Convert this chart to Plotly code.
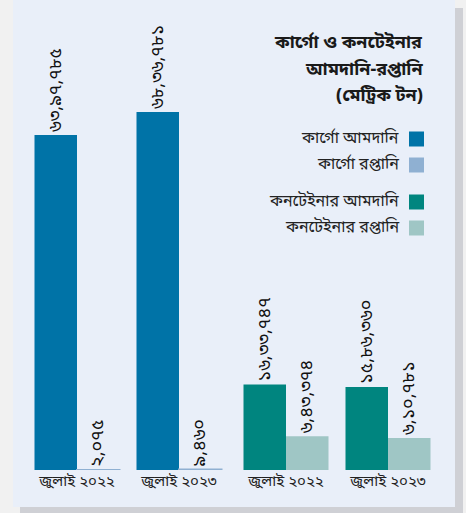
import plotly.graph_objects as go

W, H = 466, 513
periods = ["জুলাই ২০২২", "জুলাই ২০২৩"]
cargo_import = [6397785, 6836781]
cargo_export = [2075, 9460]
container_import = [1633747, 1586360]
container_export = [643374, 610781]

cargo_import_lbl = ["৬৩,৯৭,৭৮৫", "৬৮,৩৬,৭৮১"]
cargo_export_lbl = ["২,০৭৫", "৯,৪৬০"]
container_import_lbl = ["১৬,৩৩,৭৪৭", "১৫,৮৬,৩৬০"]
container_export_lbl = ["৬,৪৩,৩৭৪", "৬,১০,৭৮১"]

names = ["কার্গো আমদানি", "কার্গো রপ্তানি", "কনটেইনার আমদানি", "কনটেইনার রপ্তানি"]
colors = ["#0073a7", "#8fb0d2", "#00857f", "#9fc6c5"]
title_lines = ["কার্গো ও কনটেইনার", "আমদানি-রপ্তানি", "(মেট্রিক টন)"]

FONT = "Noto Sans Bengali, Noto Sans, sans-serif"
base_px = 470
top_px = 30
scale_max = cargo_import[0] * (base_px - top_px) / 335.0

fig = go.Figure()
series = [
    (cargo_import, cargo_import_lbl, "x", colors[0], 0),
    (cargo_export, cargo_export_lbl, "x", colors[1], 2),
    (container_import, container_import_lbl, "x2", colors[2], 0),
    (container_export, container_export_lbl, "x2", colors[3], 0),
]
for i, (vals, lbls, xa, col, lw) in enumerate(series):
    fig.add_trace(go.Bar(
        x=periods, y=vals, text=lbls, textposition="outside", textangle=-90,
        textfont=dict(family=FONT, size=18, color="#111"),
        marker=dict(color=col, line=dict(width=lw, color=col)),
        xaxis=xa, yaxis="y", name=names[i], showlegend=False,
        cliponaxis=False, constraintext="none", offsetgroup=str(i % 2),
        hoverinfo="skip",
    ))

fig.update_layout(
    width=W, height=H, margin=dict(l=0, r=0, t=0, b=0),
    paper_bgcolor="#f1f1f1", plot_bgcolor="rgba(0,0,0,0)",
    barmode="group", bargap=17 / 102, bargroupgap=0,
    xaxis=dict(domain=[26 / W, 230 / W], anchor="y", showgrid=False, zeroline=False,
               showline=False, ticks="", tickfont=dict(family=FONT, size=15, color="#222")),
    xaxis2=dict(domain=[235 / W, 439 / W], anchor="y", showgrid=False, zeroline=False,
                showline=False, ticks="", tickfont=dict(family=FONT, size=15, color="#222")),
    yaxis=dict(domain=[(H - base_px) / H, (H - top_px) / H], range=[0, scale_max],
               visible=False, showgrid=False),
    font=dict(family=FONT),
)

shapes = [
    dict(type="rect", xref="paper", yref="paper", x0=20 / W, x1=463 / W, y0=(H - 513) / H, y1=(H - 8) / H,
         fillcolor="#cfd0d5", line=dict(width=0), layer="below"),
    dict(type="rect", xref="paper", yref="paper", x0=13 / W, x1=455 / W, y0=(H - 507) / H, y1=1,
         fillcolor="#e9eff9", line=dict(width=0), layer="below"),
]
leg_y = [139, 165, 202, 228]
for yy, col in zip(leg_y, colors):
    shapes.append(dict(type="rect", xref="paper", yref="paper", x0=409 / W, x1=424 / W,
                       y0=(H - yy - 7.5) / H, y1=(H - yy + 7.5) / H, fillcolor=col, line=dict(width=0)))
fig.update_layout(shapes=shapes)

ann = []
for yy, t in zip([43, 70, 96], title_lines):
    ann.append(dict(xref="paper", yref="paper", x=425 / W, y=(H - yy) / H, xanchor="right", yanchor="middle",
                    showarrow=False, text="<b>" + t + "</b>",
                    font=dict(family=FONT, size=18, color="#1a1a1a")))
for yy, nm in zip(leg_y, names):
    ann.append(dict(xref="paper", yref="paper", x=401 / W, y=(H - yy) / H, xanchor="right", yanchor="middle",
                    showarrow=False, text=nm, font=dict(family=FONT, size=16, color="#222")))
fig.update_layout(annotations=ann)

fig.write_html("out.html")
